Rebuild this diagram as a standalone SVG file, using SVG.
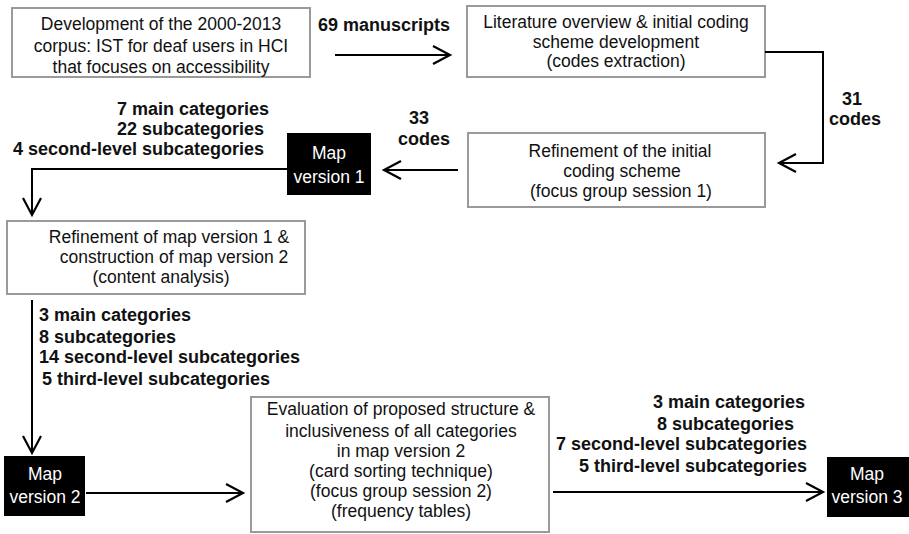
<svg xmlns="http://www.w3.org/2000/svg" width="909" height="534" viewBox="0 0 909 534">
<defs>
<style>
.box{fill:#fff;stroke:#9a9a9a;stroke-width:2}
.map{fill:#000}
.t{font-family:"Liberation Sans",Arial,sans-serif;font-size:17.5px;fill:#111;text-anchor:middle}
.w{font-family:"Liberation Sans",Arial,sans-serif;font-size:17.5px;fill:#fff;text-anchor:middle}
.b{font-family:"Liberation Sans",Arial,sans-serif;font-size:18px;font-weight:bold;fill:#111}
.c{fill:none;stroke:#000;stroke-width:2}
</style>
<marker id="ah" markerUnits="userSpaceOnUse" markerWidth="24" markerHeight="24" viewBox="-20 -12 24 24" refX="0" refY="0" orient="auto">
<path d="M-17,-9 L0,0 L-17,9" fill="none" stroke="#000" stroke-width="2.2"/>
</marker>
</defs>
<rect width="909" height="534" fill="#fff"/>

<g id="n1">
<rect class="box" x="12" y="8" width="298" height="69"/>
<text class="t" x="161" y="30">Development of the 2000-2013</text>
<text class="t" x="161" y="52">corpus: IST for deaf users in HCI</text>
<text class="t" x="161" y="73">that focuses on accessibility</text>
</g>

<g id="n2">
<rect class="box" x="467" y="6" width="298" height="71"/>
<text class="t" x="616" y="28">Literature overview &amp; initial coding</text>
<text class="t" x="616" y="48">scheme development</text>
<text class="t" x="616" y="67">(codes extraction)</text>
</g>

<g id="n3">
<rect class="box" x="468" y="133" width="297" height="74"/>
<text class="t" x="620" y="157">Refinement of the initial</text>
<text class="t" x="622" y="177">coding scheme</text>
<text class="t" x="621" y="197">(focus group session 1)</text>
</g>

<g id="n4">
<rect class="map" x="287" y="133" width="84" height="62"/>
<text class="w" x="329" y="159">Map</text>
<text class="w" x="329" y="183">version 1</text>
</g>

<g id="n5">
<rect class="box" x="7" y="221" width="298" height="73"/>
<text class="t" x="169" y="243">Refinement of map version 1 &amp;</text>
<text class="t" x="174" y="263">construction of map version 2</text>
<text class="t" x="161" y="283">(content analysis)</text>
</g>

<g id="n6">
<rect class="map" x="4" y="456" width="81" height="60"/>
<text class="w" x="45" y="480">Map</text>
<text class="w" x="45" y="503">version 2</text>
</g>

<g id="n7">
<rect class="box" x="251" y="397" width="298" height="135"/>
<text class="t" x="401" y="415">Evaluation of proposed structure &amp;</text>
<text class="t" x="401" y="437">inclusiveness of all categories</text>
<text class="t" x="401" y="457">in map version 2</text>
<text class="t" x="401" y="477">(card sorting technique)</text>
<text class="t" x="401" y="497">(focus group session 2)</text>
<text class="t" x="401" y="517">(frequency tables)</text>
</g>

<g id="n8">
<rect class="map" x="827" y="457" width="82" height="60"/>
<text class="w" x="867" y="480">Map</text>
<text class="w" x="867" y="503">version 3</text>
</g>

<g id="connectors">
<path class="c" d="M335,55 H450" marker-end="url(#ah)"/>
<path class="c" d="M765,52 H823 V163 H779" marker-end="url(#ah)"/>
<path class="c" d="M458,170 H384" marker-end="url(#ah)"/>
<path class="c" d="M287,169 H32 V215" marker-end="url(#ah)"/>
<path class="c" d="M32,300 V453" marker-end="url(#ah)"/>
<path class="c" d="M86,493 H243" marker-end="url(#ah)"/>
<path class="c" d="M553,492 H823" marker-end="url(#ah)"/>
</g>

<g id="labels">
<text class="b" x="318" y="31">69 manuscripts</text>
<text class="b" x="852" y="105" text-anchor="middle">31</text>
<text class="b" x="855" y="125" text-anchor="middle">codes</text>
<text class="b" x="419" y="124" text-anchor="middle">33</text>
<text class="b" x="424" y="145" text-anchor="middle">codes</text>
<text class="b" x="117" y="115">7 main categories</text>
<text class="b" x="117" y="135">22 subcategories</text>
<text class="b" x="13" y="155">4 second-level subcategories</text>
<text class="b" x="39" y="321">3 main categories</text>
<text class="b" x="39" y="343">8 subcategories</text>
<text class="b" x="39" y="363">14 second-level subcategories</text>
<text class="b" x="42" y="385">5 third-level subcategories</text>
<text class="b" x="653" y="408">3 main categories</text>
<text class="b" x="657" y="430">8 subcategories</text>
<text class="b" x="556" y="450">7 second-level subcategories</text>
<text class="b" x="579" y="472">5 third-level subcategories</text>
</g>
</svg>
